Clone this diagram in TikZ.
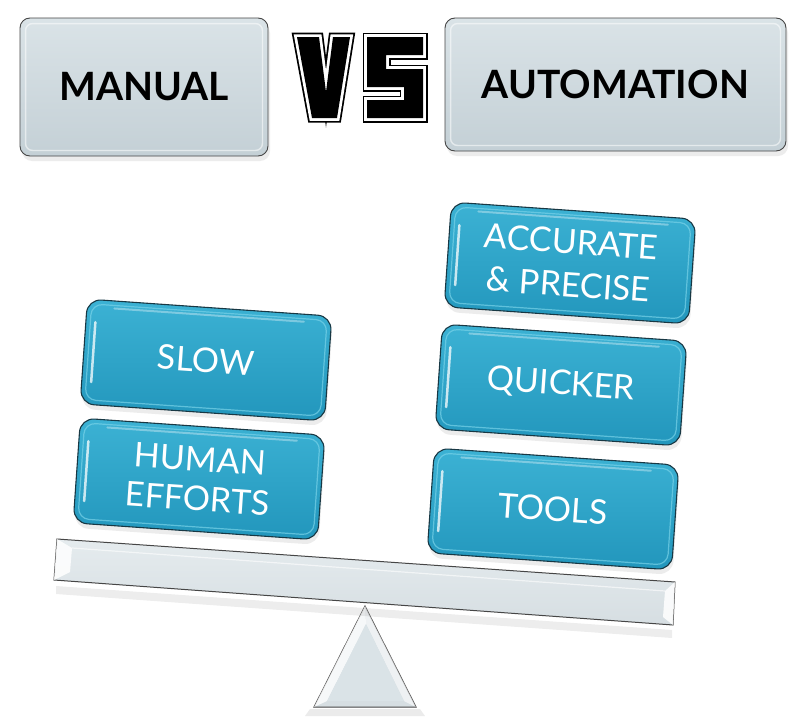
\documentclass[tikz,border=0pt]{standalone}
\usepackage{fontspec}
\setmainfont{Lato}
\usetikzlibrary{shadows}
\definecolor{gtop}{RGB}{218,227,231}
\definecolor{gbot}{RGB}{196,208,214}
\definecolor{btop}{RGB}{60,178,212}
\definecolor{bbot}{RGB}{34,150,188}
\definecolor{bedge}{RGB}{24,56,68}
\definecolor{bhi}{RGB}{120,210,232}
\definecolor{beamc}{RGB}{214,222,226}
\definecolor{edgec}{RGB}{70,70,70}
\tikzset{
  graybox/.style={draw=edgec, line width=0.9pt, rounded corners=10pt,
    top color=gtop, bottom color=gbot, text=black,
    font=\bfseries\fontsize{39}{39}\selectfont,
    drop shadow={opacity=0.15, shadow xshift=2pt, shadow yshift=-5pt}},
  bluebox/.style={draw=bedge, line width=1.1pt, rounded corners=14pt,
    top color=btop, bottom color=bbot, minimum width=245pt, minimum height=105pt,
    text=white, align=center, rotate=-4,
    font=\fontsize{34}{40}\selectfont,
    drop shadow={opacity=0.15, shadow xshift=1pt, shadow yshift=-5pt}},
  vsline/.style={line join=miter},
  bevel/.style={white, opacity=0.55, line width=1.4pt, rounded corners=7pt},
}
\newcommand{\glossbox}[1]{%
  \begin{scope}[shift={(#1.center)}, rotate=-4]
    \draw[bhi, opacity=0.7, line width=1.2pt, rounded corners=11pt] (-118,-48) rectangle (118,48);
    \draw[white, opacity=0.75, line width=2.5pt, line cap=round] (-113,-30) -- (-113,30);
    \draw[white, opacity=0.35, line width=2pt, line cap=round] (-95,-45) -- (95,-45);
  \end{scope}}
\newcommand{\vpath}{(297,37) -- (319,37) -- (326,92) -- (333,37) -- (350,37) -- (337,118) -- (312,118) -- cycle}
\newcommand{\spath}{(367,37) -- (423,37) -- (423,55) -- (386,55) -- (386,69) -- (423,69) -- (423,118) -- (367,118) -- (367,100) -- (404,100) -- (404,87) -- (367,87) -- cycle}
\begin{document}
\begin{tikzpicture}[x=1pt,y=-1pt]
\useasboundingbox (0,0) rectangle (804,728);
\fill[white] (0,0) rectangle (804,728);

% top boxes
\node[graybox, minimum width=248pt, minimum height=138pt] (man) at (144,87) {MANUAL};
\node[graybox, minimum width=341pt, minimum height=133pt] (aut) at (615.5,84.5) {AUTOMATION};
\draw[bevel] ([shift={(6,6)}]man.north west) rectangle ([shift={(-6,-6)}]man.south east);
\draw[bevel] ([shift={(6,6)}]aut.north west) rectangle ([shift={(-6,-6)}]aut.south east);

% VS
\draw[line width=9pt, black, vsline] \vpath;
\draw[line width=9pt, black, vsline] \spath;
\draw[line width=5.5pt, white, vsline] \vpath;
\draw[line width=5.5pt, white, vsline] \spath;
\fill[black] \vpath;
\fill[black] \spath;

% fulcrum
\coordinate (apex) at (365,606);
\coordinate (bl) at (314,707);
\coordinate (br) at (416,707);
\fill[black, opacity=0.08] (310,709) -- (420,709) -- (425,716) -- (305,716) -- cycle;
\draw[edgec, line width=1pt, fill=beamc] (apex) -- (br) -- (bl) -- cycle;
\fill[white, opacity=0.6] (apex) -- (br) -- (404,701) -- (366,624) -- cycle;
\fill[white, opacity=0.8] (apex) -- (366,624) -- (327,701) -- (bl) -- cycle;
\fill[gtop] (366,624) -- (404,701) -- (327,701) -- cycle;

% beam
\coordinate (b1) at (57,539);
\coordinate (b2) at (675,582);
\coordinate (b3) at (673,625);
\coordinate (b4) at (54,580);
\fill[black, opacity=0.07] (56,586) -- (672,630) -- (672,638) -- (56,594) -- cycle;
\draw[edgec, line width=1pt, top color=gtop!70!white, bottom color=beamc] (b1) -- (b2) -- (b3) -- (b4) -- cycle;
\fill[white, opacity=0.85] (b1) -- (b4) -- (70,572) -- (72,548) -- cycle;
\fill[white, opacity=0.85] (b2) -- (b3) -- (663,617) -- (665,591) -- cycle;
\draw[white, opacity=0.6, line width=1.2pt] (72,548) -- (665,591);

% blue boxes
\node[bluebox] (slow) at (206,360) {SLOW};
\node[bluebox] (hum) at (199,479) {HUMAN\\EFFORTS};
\node[bluebox, font=\fontsize{34}{43}\selectfont] (acc) at (570,263) {ACCURATE\\\&\ PRECISE};
\node[bluebox] (qui) at (561,385) {QUICKER};
\node[bluebox] (tool) at (553,509) {TOOLS};
\glossbox{slow}\glossbox{hum}\glossbox{acc}\glossbox{qui}\glossbox{tool}
\end{tikzpicture}
\end{document}
